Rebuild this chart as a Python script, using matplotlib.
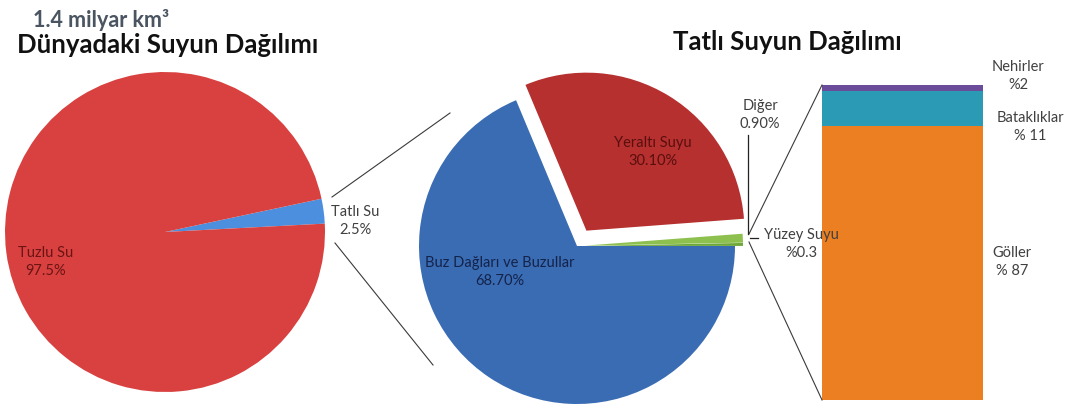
import matplotlib
matplotlib.use("Agg")
import matplotlib.pyplot as plt

plt.rcParams['font.family'] = ['Lato', 'DejaVu Sans']

# ---- data ----
world_labels = ["Tatlı Su", "Tuzlu Su"]
world_values = [2.5, 97.5]
world_texts = ["Tatlı Su\n2.5%", "Tuzlu Su\n97.5%"]

fresh_labels = ["Yüzey Suyu", "Diğer", "Yeraltı Suyu", "Buz Dağları ve Buzullar"]
fresh_values = [0.3, 0.9, 30.1, 68.7]
fresh_texts = ["Yüzey Suyu\n%0.3", "Diğer\n0.90%", "Yeraltı Suyu\n30.10%",
               "Buz Dağları ve Buzullar\n68.70%"]

surface_labels = ["Göller", "Bataklıklar", "Nehirler"]
surface_values = [87, 11, 2]
surface_texts = ["Göller\n% 87", "Bataklıklar\n% 11", "Nehirler\n%2"]

W, H = 1068, 408
fig = plt.figure(figsize=(W / 100, H / 100), dpi=100)

# stacked bar (drawn beneath the overlay axes)
bx = fig.add_axes([822 / W, (H - 400) / H, (983 - 822) / W, (400 - 85) / H])
bx.set_zorder(0)
bottom = 0
for v, c in zip(surface_values, ["#ec7f22", "#2b9ab5", "#6b4c9a"]):
    bx.bar(0, v, bottom=bottom, width=1, color=c, linewidth=0)
    bottom += v
bx.set_xlim(-0.5, 0.5)
bx.set_ylim(0, 100)
bx.axis('off')

ax = fig.add_axes([0, 0, 1, 1])
ax.set_zorder(1)
ax.patch.set_alpha(0)

def Y(p):
    return H - p

# left pie
ax.pie(world_values, colors=["#4b8fde", "#d8413f"], startangle=3,
       center=(165, Y(232)), radius=160, frame=True,
       wedgeprops=dict(linewidth=0))

# middle pie
ax.pie(fresh_values, colors=["#6fa83a", "#8dc04e", "#b5302e", "#3a6cb4"],
       startangle=0, center=(577, Y(246)), radius=158, frame=True,
       explode=[8, 8, 18, 0], wedgeprops=dict(linewidth=0))

ax.set_xlim(0, W)
ax.set_ylim(0, H)
ax.set_aspect('auto')
ax.axis('off')

# connectors
lc = "#3a3a3a"
ax.plot([332, 450], [Y(197), Y(113)], color=lc, lw=0.8)
ax.plot([335, 433], [Y(243), Y(365)], color=lc, lw=0.8)
ax.plot([749, 822], [Y(234), Y(85)], color=lc, lw=0.8)
ax.plot([749, 822], [Y(242), Y(400)], color=lc, lw=0.8)
# leader lines
ax.plot([748, 748], [Y(135), Y(234)], color="#222222", lw=0.9)
ax.plot([750, 758], [Y(238), Y(238)], color="#222222", lw=0.9)

# titles
ax.text(33, Y(20), "1.4 milyar km³", fontsize=15.5, fontweight='bold',
        color="#4a5561", ha='left', va='center')
ax.text(17, Y(45), "Dünyadaki Suyun Dağılımı", fontsize=18.5, fontweight='bold',
        color="#111111", ha='left', va='center')
ax.text(673, Y(42), "Tatlı Suyun Dağılımı", fontsize=18.5, fontweight='bold',
        color="#111111", ha='left', va='center')

# labels
fs = 10.5
ls = 1.35
ax.text(355, Y(221), world_texts[0], fontsize=fs, color="#404040",
        ha='center', va='center', linespacing=ls)
ax.text(46, Y(262), world_texts[1], fontsize=fs, color="#6b1414",
        ha='center', va='center', linespacing=ls)
ax.text(801, Y(244), fresh_texts[0], fontsize=fs, color="#404040",
        ha='center', va='center', linespacing=ls)
ax.text(760, Y(115), fresh_texts[1], fontsize=fs, color="#404040",
        ha='center', va='center', linespacing=ls)
ax.text(653, Y(152), fresh_texts[2], fontsize=fs, color="#5a0f0f",
        ha='center', va='center', linespacing=ls)
ax.text(500, Y(272), fresh_texts[3], fontsize=fs, color="#14234a",
        ha='center', va='center', linespacing=ls)
ax.text(1012, Y(262), surface_texts[0], fontsize=fs, color="#404040",
        ha='center', va='center', linespacing=ls)
ax.text(1030, Y(127), surface_texts[1], fontsize=fs, color="#404040",
        ha='center', va='center', linespacing=ls)
ax.text(1018, Y(76), surface_texts[2], fontsize=fs, color="#404040",
        ha='center', va='center', linespacing=ls)

fig.savefig("out.png", dpi=100)
